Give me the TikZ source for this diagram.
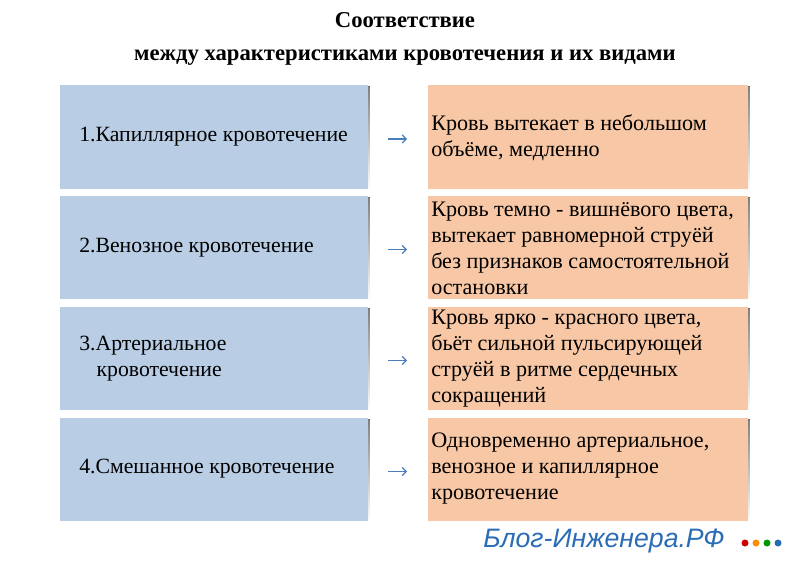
\documentclass[tikz,border=0pt]{standalone}
\usepackage{fontspec}
\usetikzlibrary{arrows.meta}
\setmainfont{Liberation Serif}
\newfontfamily\wmfont{Liberation Sans}
\begin{document}
\begin{tikzpicture}[x=0.75pt,y=-0.75pt,
  txt/.style={anchor=west,align=left,font=\fontsize{16.6pt}{19.5pt}\selectfont,inner sep=0pt},
  ltxt/.style={anchor=west,align=left,font=\fontsize{16.3pt}{19.5pt}\selectfont,inner sep=0pt},
  arr/.style={-{Straight Barb[length=3pt,width=6pt]},draw=arrblue,line width=0.9pt},
  ttl/.style={font=\bfseries\fontsize{17pt}{20pt}\selectfont}]
\definecolor{lblue}{HTML}{B9CDE5}
\definecolor{rpeach}{HTML}{F8C8A6}
\definecolor{arrblue}{HTML}{4A7EBB}
\definecolor{shade}{HTML}{E4E4E4}
\definecolor{wm}{HTML}{2A6DB5}
\useasboundingbox (0,0) rectangle (800,566);
\fill[white] (0,0) rectangle (800,566);
\node[ttl] (t1) at (405,20) {Соответствие};
\node[ttl] (t2) at (405,58) {между характеристиками кровотечения и их видами};
\foreach \i/\ya/\yb in {1/85/189,2/196/299,3/307/410,4/418/521}{
  \fill[shade] (61,\ya+1.5) rectangle (369.5,\yb+1.5);
  \fill[shade] (429,\ya+1.5) rectangle (749.5,\yb+1.5);
  \fill[lblue] (60,\ya) rectangle (368,\yb);
  \fill[rpeach] (428,\ya) rectangle (748,\yb);
  \coordinate (la\i) at (388,{(\ya+\yb)/2+2});
  \coordinate (lb\i) at (407,{(\ya+\yb)/2+2});
  \draw[arr] (la\i) -- (lb\i);
}
\node[ltxt] (l1) at (79,137) {1.Капиллярное кровотечение};
\node[ltxt] (l2) at (79,248) {2.Венозное кровотечение};
\node[ltxt] (l3) at (79,359) {3.Артериальное\\\hspace*{13pt}кровотечение};
\node[ltxt] (l4) at (79,469) {4.Смешанное кровотечение};
\node[txt] (r1) at (431,138) {Кровь вытекает в небольшом\\объёме, медленно};
\node[txt] (r2) at (431,248) {Кровь темно - вишнёвого цвета,\\вытекает равномерной струёй\\без признаков самостоятельной\\остановки};
\node[txt] (r3) at (431,359) {Кровь ярко - красного цвета,\\бьёт сильной пульсирующей\\струёй в ритме сердечных\\сокращений};
\node[txt] (r4) at (431,469) {Одновременно артериальное,\\венозное и капиллярное\\кровотечение};
\node[anchor=west,inner sep=0pt,text=wm,font=\wmfont\itshape\fontsize{20pt}{22pt}\selectfont] (wm) at (483,541) {Блог-Инженера.РФ};
\fill[red!80!black] (745,543) circle (3.5);
\fill[orange!90!yellow] (756,543) circle (3.5);
\fill[green!60!black] (767,543) circle (3.5);
\fill[wm] (778,543) circle (3.5);
\end{tikzpicture}
\end{document}
